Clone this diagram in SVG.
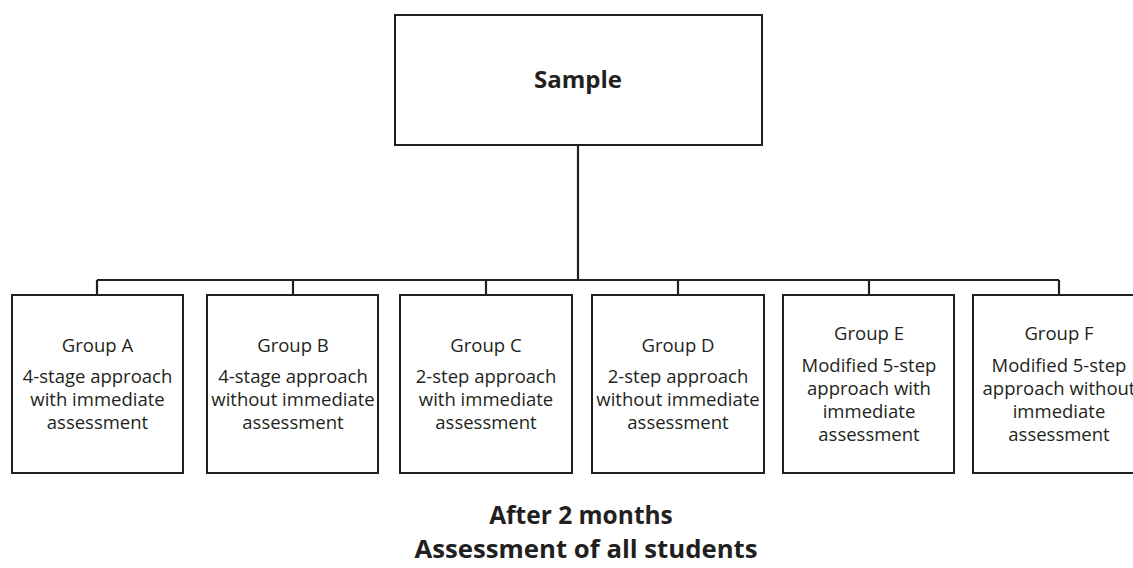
<svg xmlns="http://www.w3.org/2000/svg" width="1133" height="568" viewBox="0 0 1133 568">
<style>
.box{fill:#fff;stroke:#231f20;stroke-width:2}
.ln{fill:none;stroke:#231f20;stroke-width:2.2}
.t{font-family:"Open Sans",Lato,sans-serif;font-size:18.5px;fill:#231f20;text-anchor:middle}
.b{font-family:"Open Sans",Lato,sans-serif;font-weight:bold;fill:#231f20;text-anchor:middle}
</style>
<rect width="1133" height="568" fill="#fff"/>
<g id="connectors">
<path class="ln" d="M578,145 V280 M97,280 H1059 M97,280 V295 M293,280 V295 M486,280 V295 M678,280 V295 M869,280 V295 M1059,280 V295"/>
</g>
<g id="sample">
<rect class="box" x="395" y="15" width="367" height="130"/>
<text class="b" x="578" y="88" font-size="24">Sample</text>
</g>
<g id="groupA">
<rect class="box" x="12" y="295" width="171" height="178"/>
<text class="t" x="97.5" y="352">Group A</text>
<text class="t" x="97.5" y="383">4-stage approach</text>
<text class="t" x="97.5" y="406">with immediate</text>
<text class="t" x="97.5" y="429">assessment</text>
</g>
<g id="groupB">
<rect class="box" x="207" y="295" width="171" height="178"/>
<text class="t" x="293" y="352">Group B</text>
<text class="t" x="293" y="383">4-stage approach</text>
<text class="t" x="293" y="406">without immediate</text>
<text class="t" x="293" y="429">assessment</text>
</g>
<g id="groupC">
<rect class="box" x="400" y="295" width="172" height="178"/>
<text class="t" x="486" y="352">Group C</text>
<text class="t" x="486" y="383">2-step approach</text>
<text class="t" x="486" y="406">with immediate</text>
<text class="t" x="486" y="429">assessment</text>
</g>
<g id="groupD">
<rect class="box" x="592" y="295" width="172" height="178"/>
<text class="t" x="678" y="352">Group D</text>
<text class="t" x="678" y="383">2-step approach</text>
<text class="t" x="678" y="406">without immediate</text>
<text class="t" x="678" y="429">assessment</text>
</g>
<g id="groupE">
<rect class="box" x="783" y="295" width="171" height="178"/>
<text class="t" x="869" y="340">Group E</text>
<text class="t" x="869" y="372">Modified 5-step</text>
<text class="t" x="869" y="395">approach with</text>
<text class="t" x="869" y="418">immediate</text>
<text class="t" x="869" y="441">assessment</text>
</g>
<g id="groupF">
<rect class="box" x="973" y="295" width="172" height="178"/>
<text class="t" x="1059" y="340">Group F</text>
<text class="t" x="1059" y="372">Modified 5-step</text>
<text class="t" x="1059" y="395">approach without</text>
<text class="t" x="1059" y="418">immediate</text>
<text class="t" x="1059" y="441">assessment</text>
</g>
<g id="footer">
<text class="b" x="581" y="524" font-size="24.5">After 2 months</text>
<text class="b" x="586" y="558" font-size="24.5" textLength="343" lengthAdjust="spacingAndGlyphs">Assessment of all students</text>
</g>
</svg>
